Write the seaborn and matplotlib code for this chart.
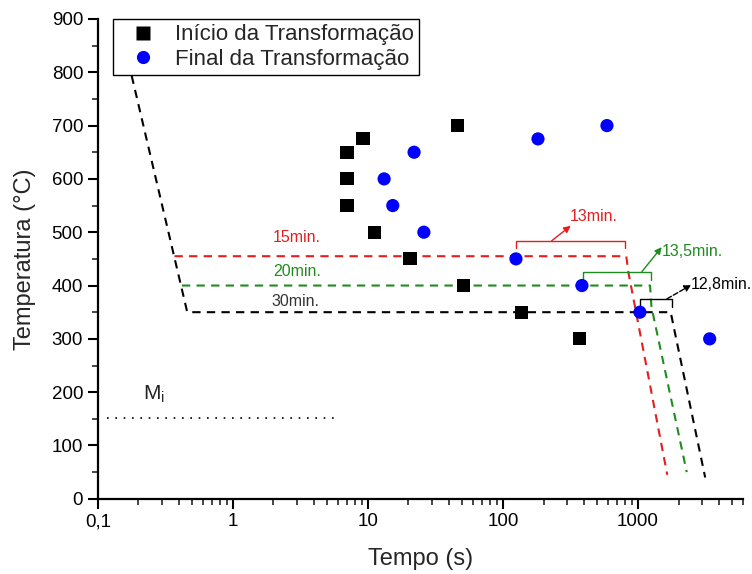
import matplotlib
matplotlib.use("Agg")
import matplotlib.pyplot as plt
import matplotlib.ticker as mticker
import numpy as np
import pandas as pd
import seaborn as sns

# pontos medidos (tempo em s, temperatura em °C)
inicio_t = [7, 7, 7, 9.2, 11.2, 20.5, 46, 51, 138, 372]
inicio_T = [650, 600, 550, 675, 500, 450, 700, 400, 350, 300]
final_t = [13.2, 15.3, 22, 26, 125, 182, 590, 385, 1035, 3400]
final_T = [600, 550, 650, 500, 450, 675, 700, 400, 350, 300]

# curvas de tratamento
c30_t = [0.142, 0.46, 1750, 1850, 3150]
c30_T = [900, 350, 350, 320, 40]
c15_t = [0.37, 820, 850, 1650]
c15_T = [455, 455, 425, 45]
c20_t = [0.42, 1230, 1260, 2300]
c20_T = [400, 400, 360, 50]
mi_t = [0.117, 5.7]
mi_T = [152, 152]

lbl_ini = "Início da Transformação"
lbl_fim = "Final da Transformação"

df = pd.DataFrame({
    "Tempo": inicio_t + final_t,
    "Temperatura": inicio_T + final_T,
    "Serie": [lbl_ini] * len(inicio_t) + [lbl_fim] * len(final_t),
})

sns.set_style("ticks")
plt.rcParams["font.family"] = ["Liberation Sans", "DejaVu Sans"]

red = "#e41e1e"
green = "#1e8c1e"

fig = plt.figure(figsize=(7.52, 5.74), dpi=100)
ax = fig.add_axes([0.130, 0.131, 0.858, 0.836])

dash = (0, (4, 3))
sns.lineplot(x=c30_t, y=c30_T, sort=False, estimator=None, color="black", lw=1.5, linestyle=dash, ax=ax)
sns.lineplot(x=c15_t, y=c15_T, sort=False, estimator=None, color=red, lw=1.5, linestyle=dash, ax=ax)
sns.lineplot(x=c20_t, y=c20_T, sort=False, estimator=None, color=green, lw=1.5, linestyle=dash, ax=ax)
ax.plot(mi_t, mi_T, color="black", lw=1.2, linestyle=(0, (1, 4)))

sns.scatterplot(data=df, x="Tempo", y="Temperatura", hue="Serie", style="Serie",
                markers={lbl_ini: "s", lbl_fim: "o"},
                palette={lbl_ini: "black", lbl_fim: "blue"},
                s=90, edgecolor="none", ax=ax, zorder=3)

ax.set_xscale("log")
ax.set_xlim(0.1, 6000)
ax.set_ylim(0, 900)

ax.xaxis.set_major_locator(mticker.FixedLocator([0.1, 1, 10, 100, 1000]))
ax.xaxis.set_major_formatter(mticker.FixedFormatter(["0,1", "1", "10", "100", "1000"]))
ax.xaxis.set_minor_locator(mticker.LogLocator(base=10, subs=np.arange(2, 10), numticks=20))
ax.xaxis.set_minor_formatter(mticker.NullFormatter())
ax.yaxis.set_major_locator(mticker.MultipleLocator(100))
ax.yaxis.set_minor_locator(mticker.MultipleLocator(50))

ax.tick_params(which="major", direction="out", length=7, width=1.5, labelsize=13.5, colors="black")
ax.tick_params(which="minor", direction="out", length=4, width=1.2)
sns.despine(ax=ax)
for s in ["left", "bottom"]:
    ax.spines[s].set_linewidth(1.6)
    ax.spines[s].set_color("black")

ax.set_xlabel("Tempo (s)", fontsize=17, labelpad=13)
ax.set_ylabel("Temperatura (°C)", fontsize=17, labelpad=11)

# rótulos das curvas
ax.text(3, 490, "15min.", color=red, fontsize=11.5, ha="center", va="center")
ax.text(3, 427, "20min.", color=green, fontsize=11.5, ha="center", va="center")
ax.text(2.9, 370, "30min.", color="#333333", fontsize=11.5, ha="center", va="center")
ax.text(0.215, 197, r"M$_\mathregular{i}$", fontsize=15, ha="left", va="center")

# colchetes, setas e tempos de transformação
ax.plot([125, 125, 800, 800], [470, 484, 484, 470], color=red, lw=1)
ax.annotate("", xy=(318, 512), xytext=(230, 484),
            arrowprops=dict(arrowstyle="-|>", color=red, lw=1, shrinkA=0, shrinkB=0))
ax.text(312, 529, "13min.", color=red, fontsize=11.5, ha="left", va="center")

ax.plot([392, 392, 1248, 1248], [411, 426, 426, 411], color=green, lw=1)
ax.annotate("", xy=(1500, 472), xytext=(1070, 426),
            arrowprops=dict(arrowstyle="-|>", color=green, lw=1, shrinkA=0, shrinkB=0))
ax.text(1500, 463, "13,5min.", color=green, fontsize=11.5, ha="left", va="center")

ax.plot([1035, 1035, 1800, 1800], [360, 375, 375, 360], color="black", lw=1)
ax.annotate("", xy=(2480, 401), xytext=(1640, 375),
            arrowprops=dict(arrowstyle="-|>", color="black", lw=1, ls="--", shrinkA=0, shrinkB=0))
ax.text(2480, 401, "12,8min.", color="black", fontsize=11.5, ha="left", va="center")

handles, labels = ax.get_legend_handles_labels()
leg = ax.legend(handles, labels, loc="upper left", bbox_to_anchor=(0.023, 1.0),
                borderaxespad=0, frameon=True, fancybox=False, framealpha=1,
                edgecolor="black", fontsize=16, handlelength=2.2, handletextpad=0.35,
                borderpad=0.25, labelspacing=0.15, markerscale=1.0)
leg.get_frame().set_linewidth(1.0)

fig.savefig("out.png", dpi=100)
